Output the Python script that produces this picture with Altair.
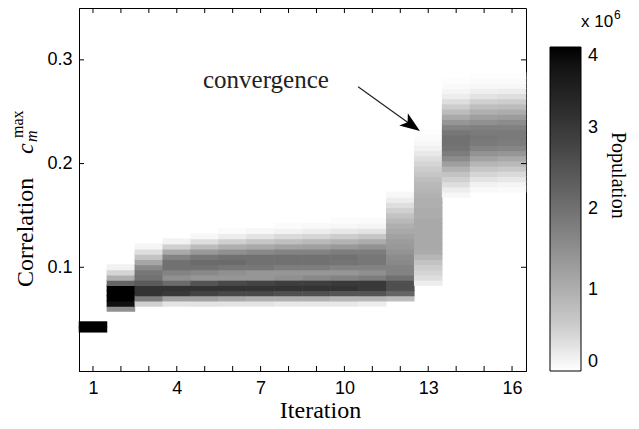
import altair as alt
import pandas as pd

# ---------------- data ----------------
ITERATIONS = list(range(1, 17))
BIN = 0.005  # correlation bin width
# centre of the first (lowest) non-empty correlation bin for each iteration
FIRST_BIN = [0.040, 0.060, 0.065, 0.065, 0.065, 0.065, 0.065, 0.065,
             0.065, 0.065, 0.065, 0.070, 0.085, 0.170, 0.175, 0.175]

# population per bin (millions), from the lowest bin upward
POP_01 = [5.0, 5.0]
POP_02 = [1.5, 3.8, 5.0, 5.0, 4.2, 2.2, 1.0, 0.45, 0.15]
POP_03 = [0.5, 1.8, 3.1, 3.1, 2.4, 2.0, 1.9, 1.6, 1.15, 0.7, 0.35, 0.12]
POP_04 = [0.3, 1.2, 3.0, 3.1, 2.1, 1.5, 1.7, 2.0, 2.0, 1.7, 1.1, 0.5, 0.15]
POP_05 = [0.3, 1.2, 2.8, 3.1, 2.5, 1.4, 1.6, 2.0, 2.1, 1.9, 1.35, 0.8, 0.35, 0.1]
POP_06 = [0.3, 1.1, 2.7, 3.1, 2.7, 1.4, 1.5, 1.9, 2.1, 2.0, 1.5, 1.0, 0.5, 0.2, 0.05]
POP_07 = [0.3, 1.0, 2.7, 3.1, 2.8, 1.4, 1.4, 1.9, 2.0, 2.0, 1.6, 1.1, 0.65, 0.3, 0.1]
POP_08 = [0.25, 1.0, 2.6, 3.1, 2.9, 1.5, 1.4, 1.8, 2.0, 2.0, 1.7, 1.2, 0.75, 0.4, 0.15, 0.05]
POP_09 = [0.25, 1.0, 2.6, 3.1, 2.9, 1.6, 1.4, 1.8, 2.0, 2.0, 1.7, 1.25, 0.85, 0.45, 0.2, 0.07]
POP_10 = [0.25, 0.9, 2.5, 3.1, 3.0, 1.7, 1.4, 1.7, 1.95, 2.0, 1.8, 1.35, 0.95, 0.55, 0.25, 0.1, 0.04]
POP_11 = [0.2, 0.9, 2.5, 3.0, 3.0, 1.8, 1.5, 1.7, 1.9, 1.9, 1.8, 1.45, 1.05, 0.65, 0.3, 0.12, 0.05]
POP_12 = [0.8, 2.2, 2.6, 2.6, 2.0, 1.7, 1.7, 1.6, 1.55, 1.45, 1.35, 1.3, 1.2, 1.1,
          1.0, 0.85, 0.7, 0.5, 0.35, 0.2, 0.1]
POP_13 = [0.2, 0.35, 0.45, 0.55, 0.7, 0.9, 1.05, 1.1, 1.1, 1.1, 1.1, 1.1, 1.1, 1.05, 1.05,
          1.0, 1.0, 0.95, 0.9, 0.85, 0.75, 0.65, 0.55, 0.45, 0.35, 0.25, 0.15, 0.1, 0.05, 0.02]
POP_14 = [0.1, 0.2, 0.35, 0.5, 0.7, 0.95, 1.25, 1.55, 1.8, 1.95, 2.0, 2.0, 1.9, 1.7, 1.4,
          1.1, 0.8, 0.55, 0.35, 0.2, 0.12, 0.06, 0.03]
POP_15 = [0.08, 0.15, 0.3, 0.45, 0.65, 0.9, 1.2, 1.45, 1.7, 1.85, 1.9, 1.85, 1.75, 1.5,
          1.25, 1.0, 0.75, 0.5, 0.3, 0.18, 0.1, 0.05, 0.02]
POP_16 = [0.06, 0.12, 0.25, 0.4, 0.6, 0.85, 1.1, 1.4, 1.65, 1.8, 1.85, 1.85, 1.75, 1.55,
          1.3, 1.05, 0.8, 0.55, 0.35, 0.2, 0.1, 0.05, 0.02]
POPULATIONS = [POP_01, POP_02, POP_03, POP_04, POP_05, POP_06, POP_07, POP_08,
               POP_09, POP_10, POP_11, POP_12, POP_13, POP_14, POP_15, POP_16]

X_TICKS = list(range(1, 17))
X_LABELS = [1, 4, 7, 10, 13, 16]
Y_TICKS = [0.1, 0.2, 0.3]
CBAR_LABELS = [0, 1, 2, 3, 4]
CBAR_TICKS = [1, 2, 3]

rows = []
for it, c0, vals in zip(ITERATIONS, FIRST_BIN, POPULATIONS):
    for k, v in enumerate(vals):
        c = c0 + k * BIN
        rows.append({"iteration": it, "x0": it - 0.5, "x1": it + 0.5,
                     "lo": round(c - BIN / 2, 5), "hi": round(c + BIN / 2, 5), "pop": v})
heat_df = pd.DataFrame(rows)

XS = alt.Scale(domain=[0.5, 16.5], nice=False, zero=False)
YS = alt.Scale(domain=[0, 0.35], nice=False, zero=False)
C_DOMAIN = [0, 0.1, 0.5, 4]
C_RANGE = ["#ffffff", "#f7f7f7", "#d0d0d0", "#000000"]
CS = alt.Scale(domain=C_DOMAIN, range=C_RANGE, clamp=True)

SANS = "Liberation Sans"
SERIF = "Liberation Serif"

# small pixel overlap between neighbouring cells hides anti-aliasing seams
heat = alt.Chart(heat_df).mark_rect(
    strokeWidth=0, yOffset=0.45, y2Offset=-0.45, xOffset=-0.3, x2Offset=0.3).encode(
    x=alt.X("x0:Q", scale=XS, axis=alt.Axis(
        values=X_LABELS, ticks=False, tickSize=0, grid=False, labelPadding=8,
        labelFont=SANS, labelFontSize=18, labelColor="black",
        domainColor="black", domainWidth=1,
        title="Iteration", titleFont=SERIF, titleFontSize=24, titleFontWeight="normal",
        titleColor="black", titleX=241, titleY=46, titleBaseline="alphabetic",
        titleAlign="center")),
    x2="x1:Q",
    y=alt.Y("lo:Q", scale=YS, axis=alt.Axis(
        values=Y_TICKS, format=".1f", ticks=False, tickSize=0, grid=False,
        labelPadding=7, labelFont=SANS, labelFontSize=18, labelColor="black",
        domainColor="black", domainWidth=1, title=None)),
    y2="hi:Q",
    color=alt.Color("pop:Q", scale=CS, legend=alt.Legend(
        orient="none", legendX=471, legendY=39, direction="vertical",
        gradientLength=324, gradientThickness=31,
        gradientStrokeColor="black", gradientStrokeWidth=1,
        values=CBAR_LABELS, format="d", labelFont=SANS, labelFontSize=18,
        labelColor="black", labelOffset=7, labelBaseline="middle",
        title=None, padding=0)),
)

xt = pd.DataFrame({"t": X_TICKS})
yt = pd.DataFrame({"t": Y_TICKS})
tick_style = dict(color="black", strokeWidth=1)
ticks_bottom = alt.Chart(xt).mark_rule(**tick_style).encode(
    x=alt.X("t:Q", scale=XS), y=alt.value(363), y2=alt.value(358))
ticks_top = alt.Chart(xt).mark_rule(**tick_style).encode(
    x=alt.X("t:Q", scale=XS), y=alt.value(0), y2=alt.value(5))
ticks_left = alt.Chart(yt).mark_rule(**tick_style).encode(
    y=alt.Y("t:Q", scale=YS), x=alt.value(0), x2=alt.value(5))
ticks_right = alt.Chart(yt).mark_rule(**tick_style).encode(
    y=alt.Y("t:Q", scale=YS), x=alt.value(442), x2=alt.value(447))

# annotation: "convergence" with arrow
ann_df = pd.DataFrame({"x": [7.19], "y": [0.273], "label": ["convergence"]})
ann = alt.Chart(ann_df).mark_text(font=SERIF, fontSize=25, color="#222222",
                                  baseline="alphabetic", align="center").encode(
    x=alt.X("x:Q", scale=XS), y=alt.Y("y:Q", scale=YS), text="label:N")
arrow_df = pd.DataFrame({"x": [10.49], "y": [0.274], "x2": [12.41], "y2": [0.237]})
arrow = alt.Chart(arrow_df).mark_rule(color="#222222", strokeWidth=1.2).encode(
    x=alt.X("x:Q", scale=XS), y=alt.Y("y:Q", scale=YS), x2="x2:Q", y2="y2:Q")
head = alt.Chart(arrow_df).mark_point(
    shape="M 1 0 L -1 -0.75 L -0.5 0 L -1 0.75 Z", filled=True, size=400,
    angle=35, color="black", opacity=1).encode(
    x=alt.X("x2:Q", scale=XS), y=alt.Y("y2:Q", scale=YS))

# y-axis title built from pieces: Correlation c_m^max
one = pd.DataFrame({"k": [0]})
def txt(text, x, y, size, angle, style="normal", font=SERIF):
    return alt.Chart(one).mark_text(
        text=text, font=font, fontSize=size, fontStyle=style, angle=angle,
        align="left", baseline="alphabetic", color="black", opacity=1).encode(
        x=alt.value(x), y=alt.value(y))

ytitle = [
    txt("Correlation", -46, 279, 24, 270),
    txt("c", -46, 146, 24, 270, "italic"),
    txt("m", -42, 134, 16, 270, "italic"),
    txt("max", -56, 130, 16, 270),
]
cbar_text = [
    txt("Population", 533, 124, 20, 90),
    txt("x 10", 502, 19, 17, 0, font=SANS),
    txt("6", 535, 11, 12, 0, font=SANS),
]

main = alt.layer(heat, ticks_bottom, ticks_top, ticks_left, ticks_right,
                 ann, arrow, head, *ytitle, *cbar_text)

# small inner ticks on the colour bar
cb_df = pd.DataFrame({"v": CBAR_TICKS})
CBY = alt.Scale(domain=[0, 4], range=[363, 39], nice=False, zero=False)
cb_left = alt.Chart(cb_df).mark_rule(color="black", strokeWidth=1).encode(
    y=alt.Y("v:Q", scale=CBY, axis=None), x=alt.value(471), x2=alt.value(474))
cb_right = alt.Chart(cb_df).mark_rule(color="black", strokeWidth=1).encode(
    y=alt.Y("v:Q", scale=CBY, axis=None), x=alt.value(499), x2=alt.value(502))
cb = alt.layer(cb_left, cb_right)

chart = alt.layer(main, cb).resolve_scale(y="independent").properties(
    width=447, height=363,
    autosize=alt.AutoSizeParams(type="none"),
    padding={"left": 71, "top": 0, "right": 105, "bottom": 50},
    background="white",
).configure_view(stroke="black", strokeWidth=1)

chart.save("out.html", embed_options={"renderer": "svg", "actions": False})
